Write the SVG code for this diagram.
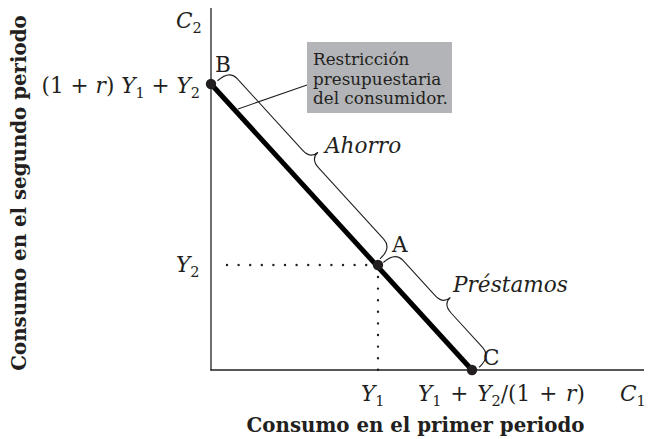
<svg xmlns="http://www.w3.org/2000/svg" width="649" height="439" viewBox="0 0 649 439">
<style>
text{font-family:"DejaVu Serif","Liberation Serif",serif;fill:#231f20}
.m{font-size:21.6px}
.i{font-style:italic}
.s{font-size:14.5px}
.b{font-size:19.8px;font-weight:bold}
.box{font-size:16.8px}
.ax{stroke:#231f20;stroke-width:1.3;fill:none}
.dot{stroke:#231f20;stroke-width:2.4;stroke-linecap:round;stroke-dasharray:0 11.6;fill:none}
.br{stroke:#231f20;stroke-width:1.1;fill:none}
</style>
<rect width="649" height="439" fill="#fff"/>
<g id="axes">
<line class="ax" x1="211" y1="8" x2="211" y2="370.6"/>
<line class="ax" x1="210.4" y1="370" x2="644" y2="370"/>
</g>
<g id="connectors">
<line x1="211" y1="84" x2="472" y2="370" stroke="#000" stroke-width="5"/>
<line class="dot" x1="227" y1="265" x2="367" y2="265"/>
<line class="dot" x1="378" y1="277" x2="378" y2="370"/>
<line class="br" x1="238" y1="109" x2="307" y2="85"/>
<g transform="translate(211,84) rotate(47.62)">
<path class="br" d="M2,-7 Q2,-23 14,-23 L110.5,-23 Q122.5,-23 122.5,-33 Q122.5,-23 134.5,-23 L231,-23 Q243,-23 243,-7"/>
<path class="br" d="M248,-7 Q248,-23 260,-23 L307,-23 Q319,-23 319,-33 Q319,-23 331,-23 L378,-23 Q390,-23 390,-7"/>
</g>
</g>
<g id="B">
<circle cx="211" cy="84" r="5.2" fill="#231f20"/>
<text class="m" x="215" y="72">B</text>
</g>
<g id="A">
<circle cx="378" cy="265" r="5.2" fill="#231f20"/>
<text class="m" x="392" y="252">A</text>
</g>
<g id="C">
<circle cx="472" cy="370" r="5.2" fill="#231f20"/>
<text class="m" x="483" y="365">C</text>
</g>
<g id="box">
<rect x="307" y="42" width="145" height="71" fill="#b2b4b7"/>
<text class="box" x="313" y="65">Restricción</text>
<text class="box" x="313" y="84.5">presupuestaria</text>
<text class="box" x="313" y="104">del consumidor.</text>
</g>
<g id="labels">
<text class="m" x="200" y="93" text-anchor="end">(1 + <tspan class="i">r</tspan>) <tspan class="i">Y</tspan><tspan class="s" dy="5">1</tspan><tspan dy="-5"> + </tspan><tspan class="i">Y</tspan><tspan class="s" dy="5">2</tspan></text>
<text class="m" x="176" y="28"><tspan class="i">C</tspan><tspan class="s" dy="5">2</tspan></text>
<text class="m" x="176" y="272"><tspan class="i">Y</tspan><tspan class="s" dy="5">2</tspan></text>
<text class="m" x="361" y="401"><tspan class="i">Y</tspan><tspan class="s" dy="5">1</tspan></text>
<text class="m" x="418" y="401" word-spacing="2"><tspan class="i">Y</tspan><tspan class="s" dy="5">1</tspan><tspan dy="-5"> + </tspan><tspan class="i">Y</tspan><tspan class="s" dy="5">2</tspan><tspan dy="-5">/(1 + </tspan><tspan class="i">r</tspan>)</text>
<text class="m" x="620" y="401"><tspan class="i">C</tspan><tspan class="s" dy="5">1</tspan></text>
<text class="m i" x="325" y="153">Ahorro</text>
<text class="m i" x="453" y="292">Préstamos</text>
<text class="b" x="415.5" y="432" text-anchor="middle">Consumo en el primer periodo</text>
<text class="b" transform="translate(26,193) rotate(-90)" text-anchor="middle">Consumo en el segundo periodo</text>
</g>
</svg>
